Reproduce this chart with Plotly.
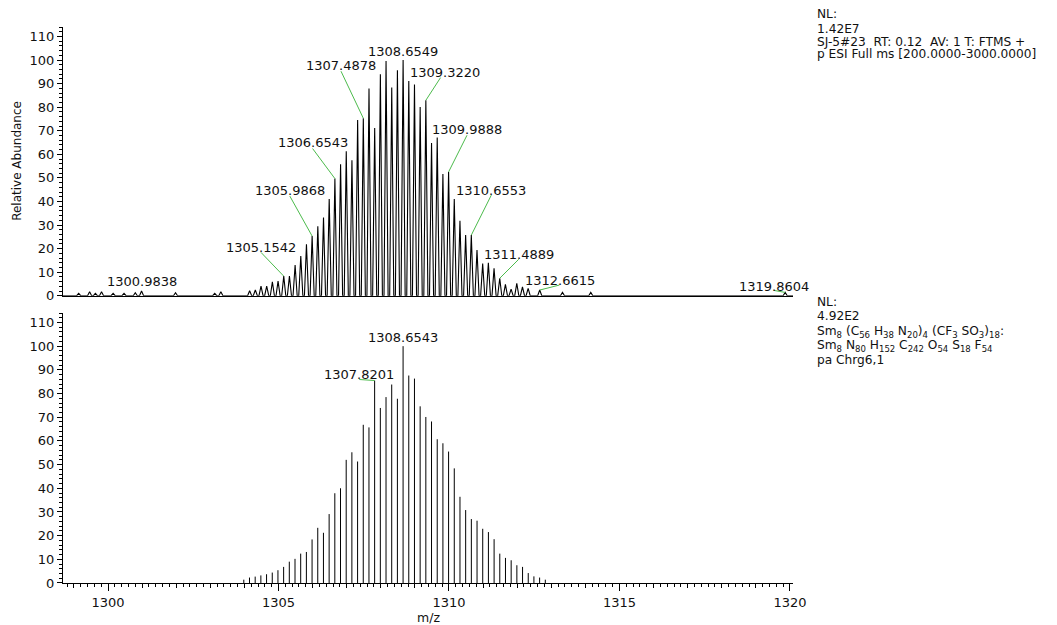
import plotly.graph_objects as go

# ---- measured spectrum (profile apexes): m/z and relative abundance ----
meas_mz = [
    1299.14, 1299.46, 1299.63, 1299.81, 1300.15, 1300.47, 1300.80, 1300.9838,
    1301.98, 1303.13, 1303.31,
    1304.1540, 1304.3207, 1304.4874, 1304.6541, 1304.8208, 1304.9875,
    1305.1542, 1305.3208, 1305.4875, 1305.6541, 1305.8205, 1305.9868,
    1306.1537, 1306.3205, 1306.4874, 1306.6543, 1306.8210, 1306.9877,
    1307.1544, 1307.3211, 1307.4878, 1307.6545, 1307.8212, 1307.9880,
    1308.1547, 1308.3214, 1308.4882, 1308.6549, 1308.8217, 1308.9884,
    1309.1552, 1309.3220, 1309.4887, 1309.6554, 1309.8221, 1309.9888,
    1310.1554, 1310.3220, 1310.4887, 1310.6553, 1310.8220, 1310.9887,
    1311.1554, 1311.3222, 1311.4889, 1311.6556, 1311.8223, 1311.9890,
    1312.1557, 1312.3224, 1312.6615, 1313.3290, 1314.1590, 1319.8604,
]
meas_int = [
    1.0, 1.7, 1.0, 1.7, 1.0, 1.0, 1.3, 2.0,
    1.3, 1.0, 1.7,
    2.1, 2.4, 4.1, 4.1, 5.9, 6.2,
    8.3, 8.3, 13.0, 16.8, 21.8, 25.3,
    29.5, 33.2, 41.0, 49.7, 55.8, 61.3,
    57.5, 74.5, 75.3, 87.9, 71.2, 93.9,
    99.6, 88.3, 95.6, 100.0, 91.1, 89.6,
    80.1, 82.9, 64.8, 67.1, 51.6, 52.5,
    41.0, 31.8, 25.7, 25.7, 19.4, 13.7,
    14.0, 11.6, 7.4, 4.8, 2.8, 5.2,
    3.8, 3.1, 2.4, 1.4, 1.4, 1.4,
]

# ---- simulated isotope pattern (centroid sticks) ----
sim_mz = [
    1303.9828, 1304.1496, 1304.3165, 1304.4833, 1304.6502, 1304.8170,
    1304.9838, 1305.1507, 1305.3175, 1305.4843, 1305.6512, 1305.8180,
    1305.9849, 1306.1517, 1306.3185, 1306.4854, 1306.6522, 1306.8191,
    1306.9859, 1307.1527, 1307.3196, 1307.4864, 1307.6533, 1307.8201,
    1307.9869, 1308.1538, 1308.3206, 1308.4875, 1308.6543, 1308.8211,
    1308.9880, 1309.1548, 1309.3217, 1309.4885, 1309.6553, 1309.8222,
    1309.9890, 1310.1559, 1310.3227, 1310.4895, 1310.6564, 1310.8232,
    1310.9901, 1311.1569, 1311.3237, 1311.4906, 1311.6574, 1311.8243,
    1311.9911, 1312.1579, 1312.3248, 1312.4916, 1312.6585, 1312.8253,
]
sim_int = [
    1.4, 2.3, 2.7, 3.2, 3.7, 4.4,
    5.4, 6.8, 9.0, 10.2, 12.4, 13.1,
    18.4, 23.3, 21.2, 29.1, 37.9, 40.0,
    52.0, 55.2, 51.3, 66.8, 65.7, 85.5,
    73.9, 78.5, 83.8, 77.8, 100.0, 87.6,
    86.3, 74.6, 70.1, 68.2, 60.7, 59.0,
    55.5, 48.4, 36.4, 30.8, 27.0, 26.3,
    22.9, 21.5, 18.5, 12.4, 10.6, 9.6,
    7.5, 6.8, 4.2, 2.8, 2.3, 1.4,
]

# axis settings
x_range = [1298.68, 1320.09]
y_range = [0, 114]
y_ticks = [0, 10, 20, 30, 40, 50, 60, 70, 80, 90, 100, 110]
x_major = [1300, 1305, 1310, 1315, 1320]
x_integer = list(range(1299, 1321))

# peak labels: (m/z, text offset px, leader-line end offset px or None)
meas_labels = [
    (1300.9838, (0, 9.3), None),
    (1305.1542, (-22.7, 28.7), (-22.7, 23.7)),
    (1305.9868, (-22.3, 45.3), (-22.3, 40)),
    (1306.6543, (-22.3, 35.6), (-22.3, 30)),
    (1307.4878, (-22.3, 53), (-22.3, 47)),
    (1308.6549, (0, 9), None),
    (1309.3220, (18.7, 27.7), (14.7, 22.7)),
    (1309.9888, (18.7, 42.4), (18.4, 36.7)),
    (1310.6553, (20, 44.3), (20, 40)),
    (1311.4889, (19.3, 23.3), (19, 19)),
    (1312.6615, (20, 10), (19.7, 5)),
    (1319.8604, (-11.3, 6), (-11.3, 2)),
]
sim_labels = [
    (1307.8201, (-15.4, 6), (-15.4, 1)),
    (1308.6543, (0, 8.7), None),
]

FONT = "DejaVu Sans"
INK = "#111111"
LEADER = "#4cbb4c"

# profile trace: each apex drawn as a narrow peak on the baseline
half_width = 0.06
prof_x, prof_y = [x_range[0]], [0]
for m, h in sorted(zip(meas_mz, meas_int)):
    prof_x += [m - half_width, m, m + half_width]
    prof_y += [0, h, 0]
prof_x.append(x_range[1])
prof_y.append(0)

# stick trace for the simulated pattern
stick_x, stick_y = [], []
for m, h in zip(sim_mz, sim_int):
    stick_x += [m, m, None]
    stick_y += [0, h, None]

fig = go.Figure()
fig.add_trace(go.Scatter(x=prof_x, y=prof_y, mode="lines",
                         line=dict(color="black", width=1.1),
                         xaxis="x", yaxis="y", hoverinfo="skip"))
fig.add_trace(go.Scatter(x=stick_x, y=stick_y, mode="lines",
                         line=dict(color="black", width=1),
                         xaxis="x2", yaxis="y2", hoverinfo="skip"))
# carrier for the integer tick overlay
fig.add_trace(go.Scatter(x=[], y=[], xaxis="x3", yaxis="y2", hoverinfo="skip"))

top_dom = [0.5167, 1.0]
bot_dom = [0.0, 0.4856]

tickfont = dict(family=FONT, size=13, color=INK)
yaxis_common = dict(range=y_range, tickvals=y_ticks, ticks="outside", ticklen=5,
                    tickcolor="black", tickwidth=1, showline=True, linecolor="black",
                    linewidth=1, showgrid=False, zeroline=False, tickfont=tickfont,
                    minor=dict(dtick=2, tick0=0, ticks="outside", ticklen=3,
                               tickcolor="black", showgrid=False),
                    fixedrange=True)

fig.update_layout(
    width=1057, height=625,
    margin=dict(l=63, r=264, t=27, b=42),
    paper_bgcolor="white", plot_bgcolor="white",
    showlegend=False,
    xaxis=dict(domain=[0, 1], anchor="y", range=x_range, showline=True,
               linecolor="black", linewidth=1, ticks="", showticklabels=False,
               showgrid=False, zeroline=False),
    yaxis=dict(domain=top_dom, anchor="x", **yaxis_common),
    xaxis2=dict(domain=[0, 1], anchor="y2", range=x_range, showline=True,
                linecolor="black", linewidth=1, tickvals=x_major, ticks="outside",
                ticklen=7, tickcolor="black", tickwidth=1, tickfont=tickfont,
                showgrid=False, zeroline=False,
                minor=dict(dtick=0.2, tick0=1300, ticks="outside", ticklen=3,
                           tickcolor="black", showgrid=False)),
    xaxis3=dict(overlaying="x2", anchor="y2", range=x_range, tickvals=x_integer,
                ticks="outside", ticklen=4, tickcolor="black", tickwidth=1,
                showticklabels=False, showline=False, showgrid=False, zeroline=False),
    yaxis2=dict(domain=bot_dom, anchor="x2", **yaxis_common),
)

annotations = []
shapes = []


def add_labels(labels, mz_list, int_list, xref, yref):
    lookup = dict(zip(mz_list, int_list))
    for mz, (tx, ty), line_end in labels:
        h = lookup[mz]
        annotations.append(dict(x=mz, y=h, xref=xref, yref=yref, xshift=tx, yshift=ty,
                                text=f"{mz:.4f}", showarrow=False,
                                xanchor="center", yanchor="middle",
                                font=dict(family=FONT, size=13, color=INK)))
        if line_end is not None:
            shapes.append(dict(type="line", xref=xref, yref=yref,
                               xsizemode="pixel", ysizemode="pixel",
                               xanchor=mz, yanchor=h,
                               x0=0, y0=0, x1=line_end[0], y1=line_end[1],
                               line=dict(color=LEADER, width=1)))


add_labels(meas_labels, meas_mz, meas_int, "x", "y")
add_labels(sim_labels, sim_mz, sim_int, "x2", "y2")

# axis titles
plot_top, plot_bottom = 27, 583
plot_h = plot_bottom - plot_top


def py(pix):
    return (plot_bottom - pix) / plot_h


def px(pix):
    return (pix - 63) / 730


annotations.append(dict(x=px(17.5), y=(top_dom[0] + top_dom[1]) / 2, xref="paper",
                        yref="paper", text="Relative Abundance", textangle=-90,
                        showarrow=False, xanchor="center", yanchor="middle",
                        font=dict(family=FONT, size=12, color=INK)))
annotations.append(dict(x=0.5, y=py(617), xref="paper", yref="paper", text="m/z",
                        showarrow=False, xanchor="center", yanchor="middle",
                        font=dict(family=FONT, size=12.5, color=INK)))

# scan header and simulation notes
side_font = dict(family=FONT, size=12.2, color=INK)
side_lines = [
    ("NL:", 14),
    ("1.42E7", 29),
    ("SJ-5#23\u00a0\u00a0RT: 0.12\u00a0\u00a0AV: 1 T: FTMS +", 42),
    ("p ESI Full ms [200.0000-3000.0000]", 54),
    ("NL:", 302),
    ("4.92E2", 316),
    ("Sm<sub>8</sub> (C<sub>56</sub> H<sub>38</sub> N<sub>20</sub>)<sub>4</sub> "
     "(CF<sub>3</sub> SO<sub>3</sub>)<sub>18</sub>:", 332),
    ("Sm<sub>8</sub> N<sub>80</sub> H<sub>152</sub> C<sub>242</sub> O<sub>54</sub> "
     "S<sub>18</sub> F<sub>54</sub>", 346),
    ("pa Chrg6,1", 360),
]
for text, ypix in side_lines:
    annotations.append(dict(x=px(815), y=py(ypix), xref="paper", yref="paper",
                            text=text, showarrow=False, xanchor="left",
                            yanchor="middle", font=side_font))

fig.update_layout(annotations=annotations, shapes=shapes)
fig.write_html("out.html")
